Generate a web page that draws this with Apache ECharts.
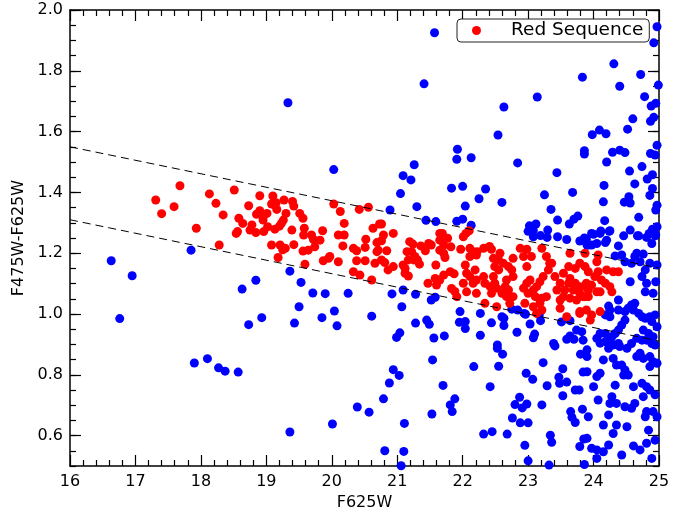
<!DOCTYPE html>
<html>
<head>
<meta charset="utf-8">
<script src="https://cdn.jsdelivr.net/npm/echarts@6/dist/echarts.min.js"></script>
<style>
  html, body { margin: 0; padding: 0; background: #fff; }
  #chart { width: 689px; height: 516px; }
</style>
</head>
<body>
<div id="chart"></div>
<script>
// Galaxies outside the red sequence: [F625W, F475W-F625W]
const blueGalaxies = [
  [16.63,1.175],[16.76,0.985],[16.95,1.126],[17.85,1.21],[17.90,0.839],[18.10,0.853],[18.27,0.823],
  [18.37,0.812],[18.57,0.809],[18.63,1.082],[18.73,0.965],[18.84,1.111],[18.93,0.988],[19.36,0.612],
  [19.36,1.141],[19.53,1.104],[19.50,1.024],[19.43,0.970],[19.71,1.069],[19.33,1.695],
  [21.57,1.925],[21.41,1.757],[20.03,1.475],[22.54,1.589],[21.92,1.542],[21.91,1.509],[22.13,1.514],
  [21.26,1.491],[21.09,1.455],[21.21,1.441],[21.05,1.396],[21.83,1.414],[22.00,1.42],[22.35,1.411],
  [22.25,1.379],[22.04,1.355],[21.30,1.353],[20.89,1.342],[21.44,1.308],[21.59,1.304],[21.91,1.305],
  [22.00,1.312],[22.13,1.292],[22.60,1.367],
  [24.97,1.945],[24.92,1.892],[24.31,1.823],[23.83,1.779],[24.72,1.788],[24.40,1.749],[24.99,1.753],
  [23.14,1.714],[22.63,1.681],[24.78,1.715],[24.88,1.684],[24.95,1.693],[24.60,1.642],[24.92,1.647],
  [24.87,1.634],[24.52,1.608],[24.09,1.605],[23.98,1.590],[24.19,1.593],[24.97,1.555],[23.86,1.537],
  [23.86,1.526],[24.40,1.539],[24.48,1.531],[24.29,1.532],[24.87,1.528],[24.94,1.523],[24.20,1.50],
  [22.84,1.497],[24.74,1.485],[24.55,1.470],[23.44,1.465],[24.82,1.444],[24.90,1.458],[24.63,1.428],
  [24.16,1.423],[24.90,1.413],[23.68,1.400],[23.25,1.392],[24.86,1.390],[24.54,1.386],[24.15,1.369],
  [24.47,1.368],[24.56,1.365],[24.97,1.358],[23.35,1.344],[24.95,1.342],[24.69,1.318],[23.45,1.309],
  [24.17,1.307],[23.76,1.322],[23.70,1.312],[23.63,1.296],[23.02,1.290],[23.12,1.296],[23.00,1.272],
  [23.08,1.275],[23.30,1.276],[23.19,1.258],[23.29,1.252],[23.08,1.254],[24.90,1.279],[24.97,1.287],
  [24.85,1.265],[24.95,1.260],[24.69,1.257],[24.56,1.276],[24.25,1.274],[24.11,1.273],[24.00,1.262],
  [23.59,1.245],[23.86,1.250],[23.45,1.254],[23.79,1.240],[23.89,1.246],[23.92,1.227],
  [22.75,1.016],[22.84,1.013],[22.94,1.002],[22.27,1.002],[22.60,0.991],
  [20.25,1.068],[20.92,1.066],[21.09,1.079],[21.28,1.065],[21.52,1.046],[21.58,1.055],[21.07,1.024],
  [20.04,1.010],[20.61,0.993],[20.08,0.961],[21.28,0.970],[21.45,0.980],[21.49,0.966],[21.96,1.008],
  [21.95,0.973],[22.04,0.975],[22.04,0.952],
  [19.90,1.067],[19.85,0.988],[20.99,0.923],[21.04,0.938],[21.56,0.921],[21.72,0.928],[21.54,0.849],
  [20.94,0.817],[21.03,0.798],[20.88,0.773],[20.79,0.721],[20.39,0.694],[20.57,0.677],[20.01,0.638],
  [21.11,0.640],[21.53,0.671],[21.70,0.765],[21.81,0.701],[21.88,0.721],[21.84,0.679],[20.81,0.550],
  [21.10,0.548],[21.06,0.501],[22.27,0.930],[22.44,0.971],[22.53,0.898],[22.53,0.887],[22.17,0.827],
  [22.55,0.828],[22.42,0.761],[22.32,0.605],[22.45,0.613],
  [22.63,0.986],[22.63,0.962],[22.61,0.868],[22.83,0.940],[23.03,0.967],[23.08,0.922],[23.10,0.934],
  [22.96,0.999],[23.17,0.997],[23.19,0.978],[23.39,0.903],[23.41,0.895],[23.51,0.974],[23.64,0.978],
  [23.59,0.917],[23.64,0.928],[23.70,0.917],[23.74,0.947],[23.82,0.942],[23.84,0.914],[23.80,0.868],
  [23.23,0.840],[23.53,0.820],[23.84,0.809],[22.97,0.805],[23.07,0.785],[23.47,0.792],[23.48,0.772],
  [23.59,0.776],[23.29,0.764],[23.72,0.750],[23.78,0.750],[23.53,0.731],[22.87,0.726],[22.80,0.702],
  [22.91,0.691],[22.98,0.704],[23.21,0.701],[22.76,0.658],[22.88,0.642],[23.00,0.642],[23.65,0.679],
  [23.67,0.660],[23.72,0.643],[23.83,0.687],[22.68,0.605],[23.34,0.601],[23.36,0.578],[22.95,0.568],
  [23.85,0.589],[23.79,0.564],[23.00,0.517],[23.32,0.503],[23.86,0.505],
  [23.97,1.265],[24.10,1.265],[24.24,1.272],[24.46,1.257],[24.67,1.257],[24.81,1.252],[24.94,1.257],
  [23.90,1.227],[23.97,1.227],[24.05,1.232],[24.18,1.235],[24.20,1.243],[24.38,1.224],[24.66,1.200],
  [24.76,1.197],[24.89,1.232],[24.43,1.194],[24.33,1.191],[24.48,1.172],[24.58,1.167],[24.63,1.189],
  [24.71,1.172],[24.86,1.167],[24.97,1.161],[24.79,1.145],[24.74,1.123],[24.56,1.106],[24.81,1.101],
  [24.95,1.106],[24.79,1.073],[24.91,1.068],[24.38,1.046],[24.23,1.026],[24.25,1.013],[24.18,0.997],
  [24.25,0.991],[24.38,1.013],[24.48,1.008],[24.53,1.019],[24.58,1.030],[24.63,1.035],[24.61,1.013],
  [24.69,1.002],[24.74,0.991],[24.79,0.986],[24.86,0.991],[24.94,0.997],[24.89,0.975],[24.97,0.958],
  [24.76,0.947],[24.84,0.936],[24.91,0.925],[24.48,0.980],[24.43,0.964],[24.38,0.947],[24.33,0.936],
  [24.28,0.925],[24.18,0.936],[24.10,0.936],[24.05,0.920],[24.10,0.904],[24.18,0.909],[24.25,0.914],
  [24.23,0.887],[24.30,0.898],[24.38,0.903],[24.40,0.893],[24.51,0.887],[24.58,0.903],[24.66,0.920],
  [24.74,0.914],[24.81,0.914],[24.89,0.903],[24.94,0.898],[24.71,0.871],[24.66,0.860],[24.76,0.854],
  [24.86,0.860],[24.91,0.843],[24.86,0.827],[24.97,0.838],[23.90,0.882],[23.90,0.860],[24.15,0.849],
  [24.30,0.854],[24.35,0.832],[24.43,0.832],[24.48,0.816],[24.53,0.799],[24.46,0.799],[24.10,0.805],
  [24.05,0.794],[23.90,0.810],[24.61,0.761],[24.74,0.772],[24.81,0.761],[24.86,0.750],[24.94,0.734],
  [24.76,0.728],[24.33,0.766],[24.00,0.761],[24.07,0.717],[24.28,0.728],[24.35,0.706],[24.25,0.706],
  [24.48,0.695],[24.63,0.706],[24.58,0.690],[24.81,0.679],[24.91,0.679],[24.97,0.662],[24.79,0.662],
  [23.92,0.662],[24.23,0.668],[24.15,0.635],[24.35,0.635],[24.30,0.607],[24.51,0.629],[24.84,0.618],
  [24.94,0.585],[24.61,0.566],[24.71,0.553],[24.81,0.575],[23.97,0.558],[24.05,0.553],[24.15,0.547],
  [24.23,0.569],[23.90,0.591],[24.05,0.525],[24.43,0.536],[24.89,0.525]
];

// Red-sequence galaxies: [F625W, F475W-F625W]
const redSequence = [
  [17.31,1.375],[17.40,1.330],[17.59,1.353],[17.68,1.422],[17.93,1.282],[18.13,1.395],[18.23,1.364],
  [18.34,1.326],[18.28,1.227],[18.51,1.408],[18.58,1.315],[18.64,1.298],[18.54,1.265],[18.56,1.271],
  [18.73,1.356],[18.75,1.276],[18.78,1.293],[18.84,1.268],[18.85,1.328],[18.90,1.340],[18.95,1.320],
  [19.01,1.331],[18.95,1.309],[18.90,1.389],[19.10,1.388],[19.08,1.362],[19.15,1.366],[19.16,1.344],
  [19.12,1.359],[19.27,1.375],[19.40,1.370],[19.42,1.355],[19.30,1.331],[19.26,1.309],[19.23,1.298],
  [19.02,1.287],[18.96,1.271],[19.13,1.279],[19.20,1.289],[19.08,1.227],[19.21,1.227],[19.29,1.216],
  [19.25,1.211],[19.18,1.186],[19.39,1.276],[19.42,1.228],[19.51,1.331],[19.56,1.315],[19.58,1.282],
  [19.57,1.260],[19.69,1.260],[19.72,1.245],[19.82,1.243],[19.74,1.221],[19.64,1.210],[19.56,1.207],
  [19.59,1.164],[19.86,1.274],[19.87,1.175],[19.95,1.183],
  [20.03,1.362],[20.13,1.337],[20.42,1.344],[20.56,1.351],[20.19,1.298],[20.10,1.260],[20.19,1.260],
  [20.17,1.224],[19.97,1.189],[20.10,1.172],[20.33,1.216],[20.38,1.208],[20.38,1.175],[20.51,1.175],
  [20.33,1.139],[20.43,1.128],[20.61,1.112],[20.52,1.246],[20.51,1.219],[20.63,1.282],[20.73,1.296],
  [20.76,1.296],[20.69,1.235],[20.76,1.241],[20.79,1.260],[20.71,1.210],[20.69,1.205],[20.84,1.208],
  [20.94,1.265],[20.66,1.167],[20.76,1.178],[20.81,1.169],[20.86,1.145],[20.94,1.156],[21.09,1.161],
  [21.12,1.150],[21.17,1.178],[21.12,1.134],[21.17,1.125],[21.19,1.238],[21.24,1.230],[21.15,1.205],
  [21.22,1.205],[21.27,1.189],[21.31,1.178],[21.34,1.164],[21.25,1.178],[21.36,1.224],[21.43,1.208],
  [21.48,1.232],[21.52,1.227],[21.59,1.161],[21.65,1.265],[21.69,1.265],[21.65,1.243],[21.71,1.227],
  [21.71,1.200],[21.73,1.186],[21.82,1.221],[21.65,1.210],[21.77,1.249],[21.47,1.101],[21.58,1.117],
  [21.60,1.095],[21.65,1.112],[21.71,1.128],[21.81,1.139],[21.87,1.132],[21.83,1.084],[21.88,1.074],
  [21.91,1.057],[21.97,1.213],[22.11,1.216],[22.16,1.205],[22.22,1.205],[22.01,1.254],[22.05,1.265],
  [22.10,1.274],[22.04,1.161],[22.06,1.134],[22.11,1.123],[22.19,1.145],[22.21,1.112],[22.01,1.101],
  [22.06,1.073],[22.16,1.101],[22.21,1.068],[22.11,1.189],[22.21,1.194],
  [22.32,1.216],[22.41,1.222],[22.44,1.213],[22.47,1.183],[22.57,1.200],[22.55,1.178],[22.62,1.167],
  [22.49,1.156],[22.55,1.145],[22.77,1.183],[22.70,1.156],[22.75,1.145],[22.77,1.123],[22.67,1.112],
  [22.47,1.123],[22.49,1.101],[22.42,1.090],[22.52,1.085],[22.44,1.068],[22.32,1.123],[22.34,1.101],
  [22.65,1.090],[22.70,1.079],[22.60,1.068],[22.67,1.057],[22.77,1.057],[22.72,1.035],[22.34,1.035],
  [22.52,1.024],[22.88,1.216],[22.98,1.213],[22.93,1.189],[23.05,1.189],[22.98,1.156],[23.21,1.216],
  [23.28,1.189],[23.33,1.167],[23.31,1.145],[23.23,1.123],[23.18,1.106],[23.13,1.090],[23.03,1.112],
  [22.98,1.101],[22.93,1.085],[23.08,1.079],[23.00,1.068],[23.11,1.057],[23.21,1.052],[23.28,1.057],
  [22.95,1.035],[23.08,1.024],[23.18,1.035],[23.21,1.013],[23.13,1.002],[23.41,1.123],[23.49,1.101],
  [23.44,1.079],[23.56,1.079],[23.54,1.057],[23.62,1.101],[23.64,1.117],[23.72,1.101],[23.69,1.079],
  [23.79,1.090],[23.79,1.068],[23.89,1.101],[23.92,1.079],[23.64,1.200],[23.62,1.156],[23.54,1.134],
  [23.72,1.150],[23.79,1.167],[23.87,1.156],[23.92,1.139],[23.49,1.046],[23.64,1.052],[23.74,1.046],
  [23.84,1.057],[23.59,0.991],[23.49,1.019],[23.79,1.002],[23.89,1.013],[23.36,1.167],
  [23.87,1.200],[24.07,1.194],[24.05,1.172],[24.07,1.139],[24.02,1.123],[24.12,1.112],[24.18,1.101],
  [24.25,1.090],[24.28,1.073],[24.30,1.139],[24.38,1.139],[24.20,1.145],[24.10,1.073],[24.05,1.073],
  [23.97,1.095],[23.92,1.090],[23.92,1.057],[23.87,1.057],[24.10,1.008],[23.97,0.997],[23.95,0.980],
  [23.79,1.085],[23.79,1.008]
];

// Dashed red-sequence boundaries, given by their end values
const cutX = [16, 25];
const upperCut = [1.55, 1.151];
const lowerCut = [1.31, 0.911];

// Labelled colour ticks
const yTickLabels = [0.6, 0.8, 1.0, 1.2, 1.4, 1.6, 1.8, 2.0];

const FONT = 'DejaVu Sans';
const INK = '#000';

function xAxisSide(pos, withLabels) {
  return {
    type: 'value', min: 16, max: 25, interval: 1, position: pos,
    axisLine: { show: true, onZero: false, lineStyle: { color: INK, width: 1.5 } },
    axisTick: { show: true, inside: true, length: 11, lineStyle: { color: INK, width: 1.2 } },
    minorTick: { show: true, splitNumber: 5, length: 6, lineStyle: { color: INK, width: 1.2 } },
    axisLabel: { show: withLabels, fontFamily: FONT, fontSize: 16, color: INK, margin: 8 },
    splitLine: { show: false },
    minorSplitLine: { show: false }
  };
}

function yAxisSide(pos, major, withLabels) {
  const ax = {
    type: 'value', min: 0.5, max: 2.0, interval: 0.05, position: pos,
    axisLine: { show: !major, onZero: false, lineStyle: { color: INK, width: 1.5 } },
    axisTick: { show: true, inside: true, length: major ? 11 : 6, lineStyle: { color: INK, width: 1.2 } },
    axisLabel: { show: withLabels, fontFamily: FONT, fontSize: 16, color: INK, margin: 7,
                 formatter: v => v.toFixed(1) },
    splitLine: { show: false }
  };
  if (major) ax.axisTick.customValues = yTickLabels;
  if (withLabels) ax.axisLabel.customValues = yTickLabels;
  return ax;
}

const xBottom = xAxisSide('bottom', true);
xBottom.name = 'F625W';
xBottom.nameLocation = 'middle';
xBottom.nameGap = 26;
xBottom.nameTextStyle = { fontFamily: FONT, fontSize: 16, color: INK };

const yLeft = yAxisSide('left', false, true);
yLeft.name = 'F475W-F625W';
yLeft.nameLocation = 'middle';
yLeft.nameGap = 42;
yLeft.nameTextStyle = { fontFamily: FONT, fontSize: 16, color: INK };

const chart = echarts.init(document.getElementById('chart'));
chart.setOption({
  animation: false,
  backgroundColor: '#fff',
  grid: { left: 70, right: 30, top: 10, bottom: 50 },
  xAxis: [xBottom, xAxisSide('top', false)],
  yAxis: [yLeft, yAxisSide('left', true, false), yAxisSide('right', false, false), yAxisSide('right', true, false)],
  legend: {
    data: ['Red Sequence'],
    left: 457, top: 19,
    backgroundColor: '#fff',
    borderColor: '#222', borderWidth: 1, borderRadius: 4,
    padding: [2, 6, 2, 15],
    icon: 'circle', itemWidth: 9, itemHeight: 9,
    textStyle: { fontFamily: FONT, fontSize: 18.5, color: INK, padding: [0, 0, 0, 25] }
  },
  series: [
    {
      name: 'Other', type: 'scatter', data: blueGalaxies,
      symbol: 'circle', symbolSize: 9, itemStyle: { color: '#0000ff', opacity: 1 }, z: 2, silent: true
    },
    {
      name: 'Red Sequence', type: 'scatter', data: redSequence,
      symbol: 'circle', symbolSize: 9, itemStyle: { color: '#ff0000', opacity: 1 }, z: 3, silent: true
    },
    {
      name: 'upper', type: 'line', data: cutX.map((x, i) => [x, upperCut[i]]),
      symbol: 'none', lineStyle: { color: '#000', width: 1, type: [8, 5] }, z: 4, silent: true
    },
    {
      name: 'lower', type: 'line', data: cutX.map((x, i) => [x, lowerCut[i]]),
      symbol: 'none', lineStyle: { color: '#000', width: 1, type: [8, 5] }, z: 4, silent: true
    }
  ]
});
</script>
</body>
</html>
